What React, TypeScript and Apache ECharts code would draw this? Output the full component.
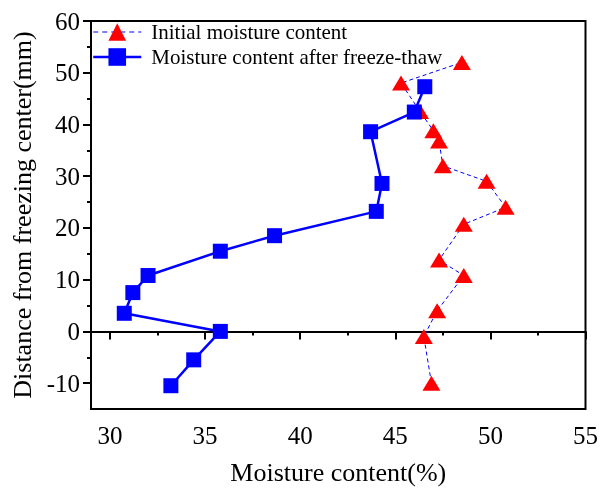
import React, { useEffect, useRef } from "react";
import * as echarts from "echarts";

const initialX = [46.9, 46.5, 47.2, 48.6, 47.3, 48.6, 50.8, 49.8, 47.5, 47.3, 47.0, 46.3, 45.3, 48.5];
const initialY = [-10, -1, 4, 10.8, 13.8, 20.7, 24, 29, 32, 36.8, 38.8, 42.5, 48, 52];
const afterX = [33.2, 34.4, 35.8, 30.75, 31.2, 32.0, 35.8, 38.65, 44.0, 44.3, 43.7, 46.0, 46.55];
const afterY = [-10.5, -5.5, 0, 3.5, 7.5, 10.8, 15.5, 18.5, 23.2, 28.6, 38.6, 42.4, 47.3];
const xMajor = [30, 35, 40, 45, 50, 55];
const xMinor = [32.5, 37.5, 42.5, 47.5, 52.5];
const yMajor = [-10, 0, 10, 20, 30, 40, 50, 60];
const yMinor = [-5, 5, 15, 25, 35, 45, 55];

const FONT = "'Liberation Serif', 'Times New Roman', serif";

export default function App() {
  const ref = useRef<HTMLDivElement>(null);
  useEffect(() => {
    if (!ref.current) return;
    const chart = echarts.init(ref.current, undefined, { renderer: "svg" });
    const axisLine = { show: true, lineStyle: { color: "#000", width: 2 } };
    chart.setOption({
      animation: false,
      textStyle: { fontFamily: FONT },
      grid: { left: 91, right: 12, top: 21, bottom: 79, show: true, borderColor: "#000", borderWidth: 2 },
      legend: {
        left: 87,
        top: 16,
        orient: "vertical",
        itemWidth: 48,
        itemHeight: 22,
        itemGap: 3,
        textStyle: { fontFamily: FONT, fontSize: 21, lineHeight: 22, color: "#000", padding: [0, 0, 0, 5] },
        data: [
          { name: "Initial moisture content", lineStyle: { color: "#0000ff", width: 1.2, type: [5, 4] } },
          { name: "Moisture content after freeze-thaw", lineStyle: { color: "#0000ff", width: 2.5 } },
        ],
      },
      xAxis: [
        {
          type: "value",
          min: 29,
          max: 55,
          name: "Moisture content(%)",
          nameLocation: "middle",
          nameGap: 50,
          nameTextStyle: { fontFamily: FONT, fontSize: 26, color: "#000" },
          axisLine,
          splitLine: { show: false },
          axisTick: { show: true, inside: false, length: 8, customValues: xMajor, lineStyle: { color: "#000", width: 2 } },
          axisLabel: { customValues: xMajor, fontFamily: FONT, fontSize: 25, color: "#000", margin: 14 },
        },
        {
          type: "value",
          min: 29,
          max: 55,
          position: "bottom",
          axisLine: { show: false },
          splitLine: { show: false },
          axisTick: { show: true, inside: false, length: 4, customValues: xMinor, lineStyle: { color: "#000", width: 2 } },
          axisLabel: { show: false },
        },
      ],
      yAxis: [
        {
          type: "value",
          min: -15,
          max: 60,
          name: "Distance from freezing center(mm)",
          nameLocation: "middle",
          nameGap: 55,
          nameTextStyle: { fontFamily: FONT, fontSize: 26, color: "#000" },
          axisLine,
          splitLine: { show: false },
          axisTick: { show: true, inside: false, length: 8, customValues: yMajor, lineStyle: { color: "#000", width: 2 } },
          axisLabel: { customValues: yMajor, fontFamily: FONT, fontSize: 25, color: "#000", margin: 11 },
        },
        {
          type: "value",
          min: -15,
          max: 60,
          position: "left",
          axisLine: { show: false },
          splitLine: { show: false },
          axisTick: { show: true, inside: false, length: 4, customValues: yMinor, lineStyle: { color: "#000", width: 2 } },
          axisLabel: { show: false },
        },
      ],
      series: [
        {
          name: "Initial moisture content",
          type: "line",
          data: initialX.map((x, i) => [x, initialY[i]]),
          symbol: "triangle",
          symbolSize: [18, 15],
          itemStyle: { color: "#ff0000" },
          lineStyle: { color: "#0000ff", width: 1, type: [4, 3] },
        },
        {
          name: "Moisture content after freeze-thaw",
          type: "line",
          data: afterX.map((x, i) => [x, afterY[i]]),
          symbol: "rect",
          symbolSize: 15,
          itemStyle: { color: "#0000ff" },
          lineStyle: { color: "#0000ff", width: 2.5 },
        },
      ],
    });
    return () => chart.dispose();
  }, []);
  return <div ref={ref} style={{ position: "fixed", left: 0, top: 0, width: 601, height: 490 }} />;
}
